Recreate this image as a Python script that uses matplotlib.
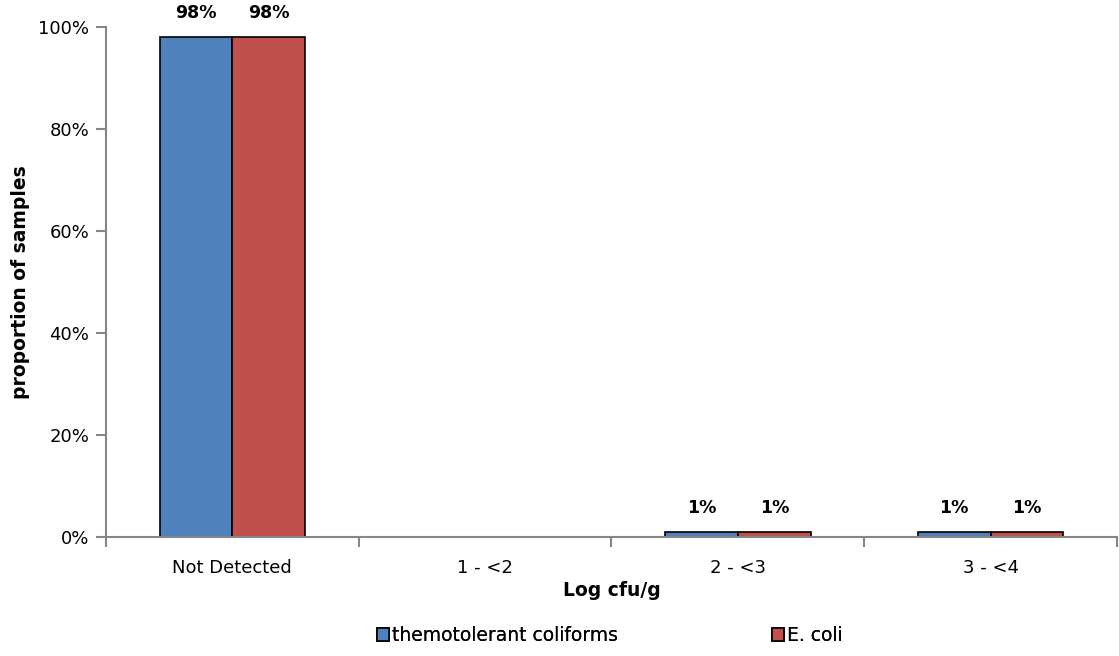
import matplotlib
matplotlib.use("Agg")
import matplotlib.pyplot as plt
import numpy as np
from matplotlib.patches import Patch
from matplotlib.ticker import PercentFormatter

categories = ["Not Detected", "1 - <2", "2 - <3", "3 - <4"]
thermo = [98, 0, 1, 1]
ecoli = [98, 0, 1, 1]
series_names = ["themotolerant coliforms", "E. coli"]
yticks = [0, 20, 40, 60, 80, 100]

blue = "#4F81BD"
red = "#C0504D"
axis_grey = "#868686"

plt.rcParams["font.family"] = ["DejaVu Sans"]

fig = plt.figure(figsize=(11.19, 6.56), dpi=100)
ax = fig.add_axes([0.0947, 0.1814, 0.9035, 0.7774])

x = np.arange(len(categories))
w = 0.288
b1 = ax.bar(x - w / 2, thermo, w, color=blue, edgecolor="black", linewidth=1.2)
b2 = ax.bar(x + w / 2, ecoli, w, color=red, edgecolor="black", linewidth=1.2)

for bars, vals in ((b1, thermo), (b2, ecoli)):
    for rect, v in zip(bars, vals):
        if v > 0:
            ax.text(rect.get_x() + rect.get_width() / 2, v + 3.0, f"{v}%",
                    ha="center", va="bottom", fontsize=12.5, fontweight="bold")

ax.set_xlim(-0.5, len(categories) - 0.5)
ax.set_ylim(0, 100)
ax.set_yticks(yticks)
ax.yaxis.set_major_formatter(PercentFormatter(decimals=0))

ax.set_xticks(x)
ax.set_xticklabels(categories, fontsize=13)
ax.tick_params(axis="x", which="major", length=0, pad=16)
ax.set_xticks(np.arange(-0.5, len(categories)), minor=True)
ax.tick_params(axis="x", which="minor", length=7, color=axis_grey, width=1.5)
ax.tick_params(axis="y", length=7, color=axis_grey, width=1.5, labelsize=13, pad=5)

for side in ("top", "right"):
    ax.spines[side].set_visible(False)
for side in ("left", "bottom"):
    ax.spines[side].set_color(axis_grey)
    ax.spines[side].set_linewidth(1.5)

ax.set_xlabel("Log cfu/g", fontsize=13.5, fontweight="bold", labelpad=3)
ax.set_ylabel("proportion of samples", fontsize=13.5, fontweight="bold", labelpad=6)

handles = [Patch(facecolor=blue, edgecolor="black", linewidth=1.2),
           Patch(facecolor=red, edgecolor="black", linewidth=1.2)]
legend_x = [377 / 1119, 772 / 1119]
for h, name, lx in zip(handles, series_names, legend_x):
    leg = fig.legend([h], [name], loc="center left", bbox_to_anchor=(lx, 0.031),
                     frameon=False, fontsize=13.5, handlelength=0.65, handleheight=0.65,
                     handletextpad=0.15, borderpad=0, borderaxespad=0)
    fig.add_artist(leg)

fig.savefig("out.png", dpi=100)
